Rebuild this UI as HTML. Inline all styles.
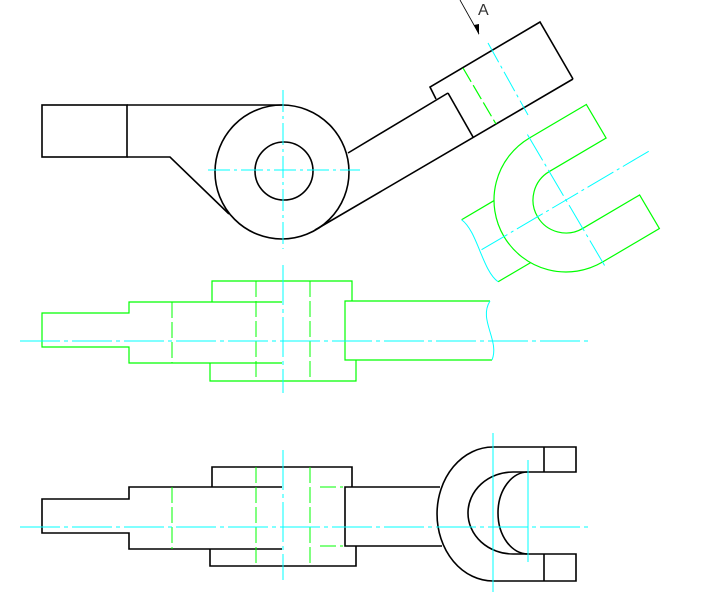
<!DOCTYPE html>
<html><head><style>body{margin:0;background:#fff}svg{display:block}</style></head>
<body>
<svg width="702" height="596" viewBox="0 0 702 596" xmlns="http://www.w3.org/2000/svg" fill="none" stroke-linejoin="miter">
<!-- TOP VIEW -->
<g stroke="#000" stroke-width="1.6">
<rect x="42" y="105" width="85" height="52"/>
<line x1="127" y1="105" x2="283" y2="105"/>
<polyline points="127,157 170,157 229,214"/>
<circle cx="282" cy="172" r="67"/>
<circle cx="284" cy="171" r="29"/>
<line x1="348" y1="153" x2="448" y2="93"/>
<line x1="315" y1="230" x2="573" y2="79"/>
<polyline points="436,99 430,87 540,22 573,79"/>
<line x1="448" y1="93" x2="473" y2="137"/>
</g>
<g stroke="#00ffff" stroke-width="1" stroke-dasharray="22,4,3,4">
<line x1="208" y1="170" x2="360" y2="170"/>
<line x1="283" y1="90" x2="283" y2="249"/>
<line x1="488" y1="43" x2="528" y2="115"/>
</g>
<line x1="463" y1="68" x2="496" y2="124" stroke="#00ff00" stroke-width="1.2" stroke-dasharray="16,4"/>
<line x1="460" y1="0" x2="479" y2="34" stroke="#000" stroke-width="0.8"/>
<polygon points="479,35 474,25 479,24" fill="#000"/>
<text x="478" y="15" font-family="Liberation Sans, sans-serif" font-size="16" fill="#333" font-weight="normal">A</text>

<!-- ROTATED U VIEW -->
<g transform="translate(566,200) rotate(-30.5)">
<g stroke="#00ff00" stroke-width="1.2">
<path d="M66,-72 L0,-72 A72,72 0 0 0 0,72 L66,72 L66,33 L0,33 A33,33 0 0 1 0,-33 L66,-33 Z"/>
<line x1="-100" y1="-36" x2="-62" y2="-36"/>
<line x1="-100" y1="36" x2="-62" y2="36"/>
</g>
<path d="M-100,-36 C-92,-18 -108,18 -100,36" stroke="#00ffff" stroke-width="1"/>
<g stroke="#00ffff" stroke-width="1" stroke-dasharray="30,4,3,4">
<line x1="-98" y1="0" x2="98" y2="0"/>
<line x1="0" y1="-76" x2="0" y2="76"/>
</g>
</g>

<!-- MIDDLE GREEN VIEW -->
<g stroke="#00ff00" stroke-width="1.2">
<polyline points="282,302 129,302 129,313 42,313 42,347 129,347 129,363 282,363"/>
<polyline points="212,302 212,281 352,281 352,301"/>
<polyline points="210,363 210,381 356,381 356,360"/>
<polyline points="490,301 345,301 345,360 492,360"/>
</g>
<path d="M490,301 C478,320 500,340 492,360" stroke="#00ffff" stroke-width="1"/>
<g stroke="#00ff00" stroke-width="1" stroke-dasharray="16,4">
<line x1="172" y1="302" x2="172" y2="363"/>
<line x1="256" y1="281" x2="256" y2="381"/>
<line x1="310" y1="281" x2="310" y2="381"/>
</g>
<g stroke="#00ffff" stroke-width="1" stroke-dasharray="40,4,4,4">
<line x1="20" y1="341" x2="590" y2="341"/>
<line x1="283" y1="265" x2="283" y2="393"/>
</g>

<!-- BOTTOM VIEW -->
<g stroke="#000" stroke-width="1.6">
<polyline points="282,487 129,487 129,499 42,499 42,533 129,533 129,549 282,549"/>
<polyline points="212,487 212,467 352,467 352,487"/>
<polyline points="210,549 210,566 356,566 356,546"/>
<polyline points="440,487 345,487 345,546 442,546"/>
<path d="M493,447 A56,67 0 0 0 493,581"/>
<path d="M513,472 A45,41 0 0 0 513,554"/>
<path d="M528,472 A30,41 0 0 0 528,554"/>
<polyline points="493,447 576,447 576,472 513,472"/>
<polyline points="493,581 576,581 576,554 513,554"/>
<line x1="544" y1="447" x2="544" y2="472"/>
<line x1="544" y1="554" x2="544" y2="581"/>
</g>
<g stroke="#00ff00" stroke-width="1" stroke-dasharray="16,4">
<line x1="172" y1="487" x2="172" y2="549"/>
<line x1="256" y1="467" x2="256" y2="566"/>
<line x1="310" y1="467" x2="310" y2="566"/>
<line x1="320" y1="487" x2="343" y2="487"/>
<line x1="320" y1="546" x2="343" y2="546"/>
</g>
<g stroke="#00ffff" stroke-width="1" stroke-dasharray="40,4,4,4">
<line x1="20" y1="527" x2="590" y2="527"/>
<line x1="283" y1="450" x2="283" y2="580"/>
</g>
<line x1="493" y1="433" x2="493" y2="592" stroke="#00ffff" stroke-width="1"/>
<line x1="528" y1="460" x2="528" y2="562" stroke="#00ffff" stroke-width="1"/>
</svg>
</body></html>
